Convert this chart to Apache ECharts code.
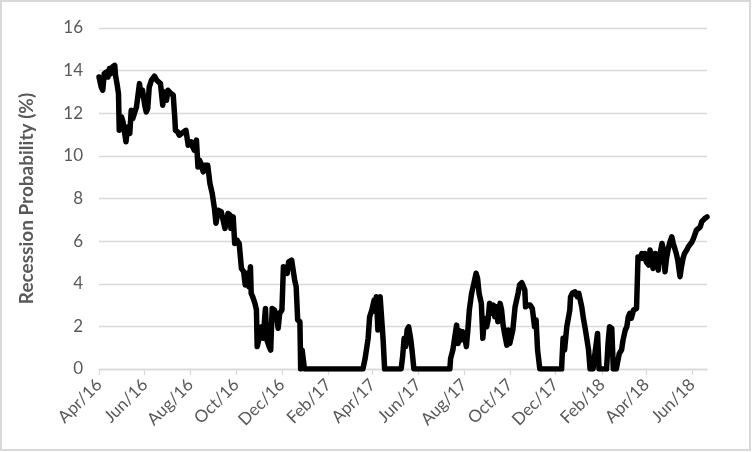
<!DOCTYPE html>
<html>
<head>
<meta charset="utf-8">
<script src="https://cdn.jsdelivr.net/npm/echarts@6/dist/echarts.min.js"></script>
<style>
html,body{margin:0;padding:0;background:#fff;}
#chart{width:752px;height:452px;}
</style>
</head>
<body>
<div id="chart"></div>
<script>
// ---- data ----
const dates = [
'2016-04-01','2016-04-04','2016-04-06','2016-04-08','2016-04-11','2016-04-13','2016-04-15','2016-04-17','2016-04-19','2016-04-22',
'2016-04-23','2016-04-25','2016-04-27','2016-04-28','2016-05-01','2016-05-03','2016-05-05','2016-05-07','2016-05-09','2016-05-12',
'2016-05-14','2016-05-16','2016-05-18','2016-05-21','2016-05-23','2016-05-25','2016-05-27','2016-05-29','2016-06-01','2016-06-03',
'2016-06-05','2016-06-07','2016-06-10','2016-06-12','2016-06-14','2016-06-17','2016-06-19','2016-06-22','2016-06-24','2016-06-25',
'2016-06-27','2016-06-30','2016-07-02','2016-07-04','2016-07-06','2016-07-09','2016-07-11','2016-07-12','2016-07-15','2016-07-17',
'2016-07-20','2016-07-22','2016-07-26','2016-07-29','2016-07-31','2016-08-02','2016-08-04','2016-08-06','2016-08-09','2016-08-11',
'2016-08-13','2016-08-15','2016-08-18','2016-08-20','2016-08-24','2016-08-26','2016-08-27','2016-08-30','2016-09-02','2016-09-04',
'2016-09-07','2016-09-11','2016-09-16','2016-09-20','2016-09-23','2016-09-24','2016-09-27','2016-09-29','2016-10-02','2016-10-05',
'2016-10-08','2016-10-11','2016-10-13','2016-10-15','2016-10-18','2016-10-20','2016-10-21','2016-10-23','2016-10-26','2016-10-28',
'2016-10-29','2016-11-01','2016-11-04','2016-11-06','2016-11-09','2016-11-11','2016-11-14','2016-11-16','2016-11-18','2016-11-21',
'2016-11-24','2016-11-26','2016-11-28','2016-12-01','2016-12-03','2016-12-06','2016-12-08','2016-12-10','2016-12-14','2016-12-16',
'2016-12-18','2016-12-20','2016-12-22','2016-12-25','2016-12-26','2016-12-28','2016-12-30','2016-12-31','2017-03-19','2017-03-22',
'2017-03-26','2017-03-28','2017-03-31','2017-04-03','2017-04-05','2017-04-06','2017-04-08','2017-04-11','2017-04-13','2017-04-15',
'2017-04-17','2017-05-09','2017-05-11','2017-05-13','2017-05-15','2017-05-17','2017-05-19','2017-05-22','2017-05-24','2017-05-26',
'2017-07-13','2017-07-14','2017-07-17','2017-07-20','2017-07-22','2017-07-24','2017-07-26','2017-07-28','2017-07-30','2017-08-02',
'2017-08-04','2017-08-06','2017-08-08','2017-08-11','2017-08-13','2017-08-15','2017-08-17','2017-08-19','2017-08-21','2017-08-24',
'2017-08-26','2017-08-28','2017-08-31','2017-09-02','2017-09-04','2017-09-06','2017-09-09','2017-09-11','2017-09-13','2017-09-15',
'2017-09-18','2017-09-20','2017-09-22','2017-09-24','2017-09-27','2017-09-29','2017-10-01','2017-10-03','2017-10-05','2017-10-08',
'2017-10-10','2017-10-12','2017-10-14','2017-10-17','2017-10-19','2017-10-21','2017-10-22','2017-10-25','2017-10-28','2017-10-31',
'2017-11-02','2017-11-03','2017-11-05','2017-11-07','2017-11-10','2017-12-09','2017-12-10','2017-12-11','2017-12-13','2017-12-16',
'2017-12-18','2017-12-20','2017-12-21','2017-12-24','2017-12-27','2017-12-30','2018-01-01','2018-01-02','2018-01-05','2018-01-07',
'2018-01-10','2018-01-14','2018-01-16','2018-01-20','2018-01-22','2018-01-26','2018-01-28','2018-02-07','2018-02-09','2018-02-11',
'2018-02-14','2018-02-16','2018-02-20','2018-02-24','2018-02-27','2018-03-01','2018-03-04','2018-03-06','2018-03-08','2018-03-10',
'2018-03-12','2018-03-15','2018-03-17','2018-03-19','2018-03-21','2018-03-24','2018-03-26','2018-03-28','2018-03-30','2018-04-01',
'2018-04-04','2018-04-06','2018-04-08','2018-04-10','2018-04-13','2018-04-15','2018-04-17','2018-04-19','2018-04-22','2018-04-24',
'2018-04-26','2018-04-28','2018-04-30','2018-05-02','2018-05-05','2018-05-07','2018-05-09','2018-05-11','2018-05-13','2018-05-16',
'2018-05-18','2018-05-20','2018-05-22','2018-05-25','2018-05-27','2018-05-29','2018-06-01','2018-06-03','2018-06-05','2018-06-07',
'2018-06-09','2018-06-12','2018-06-14','2018-06-16','2018-06-18','2018-06-21'
];
const recessionProb = [
13.7,13.23,13.08,13.86,13.94,13.7,14.1,13.86,14.17,14.25,
13.78,13.39,12.92,11.2,11.83,11.6,11.67,10.66,11.36,11.05,
12.14,11.75,11.83,12.3,12.38,13.39,12.85,13.08,12.38,12.06,
12.22,13.23,13.55,13.63,13.74,13.55,13.63,13.39,13.31,12.38,
13.0,12.61,13.08,13.0,12.92,12.85,11.83,11.2,11.12,10.97,
11.05,11.12,11.2,10.5,10.42,10.66,10.42,10.27,10.74,9.48,
9.8,9.64,9.25,9.56,9.56,9.6,8.7,8.24,7.53,6.84,
7.45,7.38,6.6,7.3,7.22,6.6,7.14,5.89,6.05,5.89,
4.72,4.56,3.94,4.49,3.86,4.8,3.55,3.39,3.08,2.77,
1.05,1.51,1.98,1.44,2.84,1.36,1.05,0.89,2.84,2.77,
2.45,1.91,2.61,2.77,4.8,4.72,4.49,5.03,5.11,5.03,
4.17,3.86,2.3,2.22,0,0.89,0.97,0,0,0.5,
1.44,2.45,2.77,3.23,2.69,3.39,1.83,3.39,3.39,1.36,
0,0,0.58,1.44,1.05,1.83,1.98,1.36,0.73,0,
0,0.5,0.89,1.6,2.06,1.2,1.8,1.36,1.75,1.5,
1.05,1.83,2.77,3.55,3.86,4.17,4.49,4.25,3.55,3.08,
1.44,2.38,1.98,2.3,3.08,2.61,3.0,2.45,2.92,2.22,
3.08,2.77,2.06,1.67,1.12,1.83,1.2,1.28,1.83,2.92,
3.23,3.55,3.94,4.05,4.02,3.7,2.92,3.0,3.0,2.84,
2.77,1.98,2.3,0.89,0,0,0.73,1.44,0.89,1.98,
2.06,2.77,3.39,3.58,3.62,3.39,3.55,3.5,2.9,2.4,
1.8,0.9,0,0,0.58,1.67,0,0,1.2,1.98,
1.91,0,0,0.73,0.89,1.36,1.83,1.98,2.45,2.61,
2.38,2.77,2.69,2.84,5.26,5.19,5.42,5.19,5.42,5.03,
4.88,5.58,5.26,4.72,5.42,5.19,4.64,5.34,5.89,5.58,
4.56,5.19,5.58,5.89,6.2,5.89,5.81,5.42,5.11,4.33,
4.8,5.19,5.42,5.58,5.73,5.66,5.97,6.13,6.05,6.52,
6.59,6.67,6.91,6.98,7.06,7.14
];
const tickDates = ['2016-04-01','2016-06-01','2016-08-01','2016-10-01','2016-12-01','2017-02-01','2017-04-01',
  '2017-06-01','2017-08-01','2017-10-01','2017-12-01','2018-02-01','2018-04-01','2018-06-01'];
const tickLabels = ['Apr/16','Jun/16','Aug/16','Oct/16','Dec/16','Feb/17','Apr/17',
  'Jun/17','Aug/17','Oct/17','Dec/17','Feb/18','Apr/18','Jun/18'];
const yTitle = 'Recession Probability (%)';

// ---- build ----
function ts(s){ return Date.UTC(+s.slice(0,4), +s.slice(5,7) - 1, +s.slice(8,10)); }
const seriesData = dates.map((d, i) => [ts(d), recessionProb[i]]);
const tickTs = tickDates.map(ts);

const chart = echarts.init(document.getElementById('chart'), null, {renderer: 'canvas'});
chart.setOption({
  animation: false,
  backgroundColor: '#fff',
  grid: {left: 99, right: 45, top: 28, bottom: 83, containLabel: false},
  xAxis: {
    type: 'value',
    min: ts(dates[0]),
    max: ts(dates[dates.length - 1]),
    axisLine: {show: true, lineStyle: {color: '#d9d9d9', width: 1.3}},
    axisTick: {show: true, length: 6, customValues: tickTs, lineStyle: {color: '#d9d9d9', width: 1.3}},
    splitLine: {show: false},
    axisLabel: {
      customValues: tickTs,
      rotate: 45,
      margin: 13,
      color: '#595959',
      fontFamily: 'Lato',
      fontSize: 17,
      showMinLabel: true,
      showMaxLabel: true,
      formatter: function (v) {
        const i = tickTs.indexOf(v);
        return i >= 0 ? tickLabels[i] : '';
      }
    }
  },
  yAxis: {
    type: 'value',
    min: 0, max: 16, interval: 2,
    name: yTitle,
    nameLocation: 'middle',
    nameGap: 63,
    nameTextStyle: {color: '#595959', fontFamily: 'Lato', fontSize: 19, fontWeight: 'bold'},
    axisLine: {show: false},
    axisTick: {show: false},
    splitLine: {show: true, lineStyle: {color: '#d9d9d9', width: 1.3}},
    axisLabel: {color: '#595959', fontFamily: 'Lato', fontSize: 17, margin: 16}
  },
  series: [{
    type: 'line',
    data: seriesData,
    showSymbol: false,
    lineStyle: {color: '#000', width: 5.5, join: 'round', cap: 'round'},
    z: 3
  }],
  graphic: [{
    type: 'rect',
    shape: {x: 1, y: 1, width: 749, height: 449},
    style: {fill: 'none', stroke: '#d9d9d9', lineWidth: 2},
    silent: true
  }]
});
</script>
</body>
</html>
